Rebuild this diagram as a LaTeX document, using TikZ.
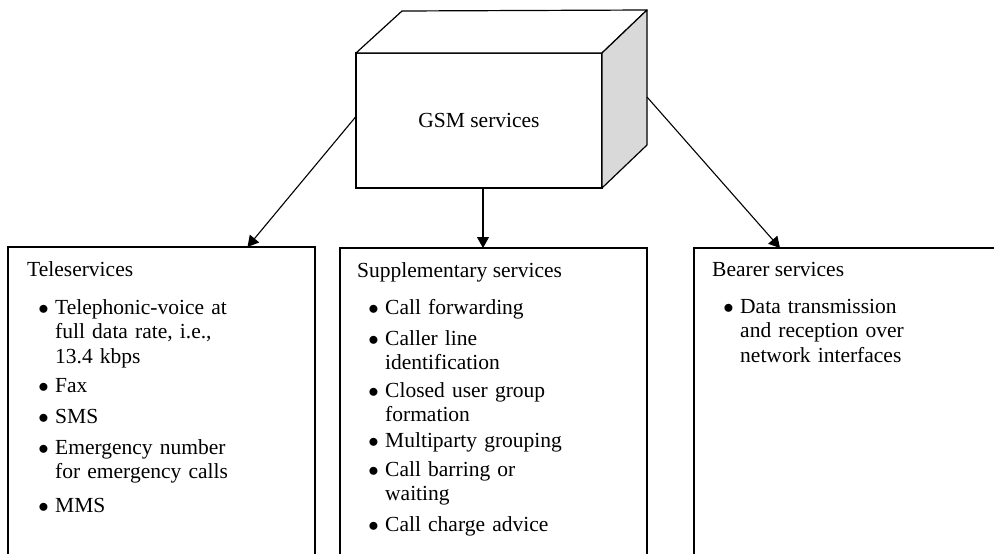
\documentclass[tikz,border=0pt]{standalone}
\usepackage{fontspec}
\setmainfont{Liberation Serif}
\usetikzlibrary{arrows.meta,calc}
\definecolor{sideface}{RGB}{217,217,217}
\begin{document}
\begin{tikzpicture}[x=1pt,y=-1pt,
  txt/.style={font=\fontsize{21.5}{24.5}\selectfont},
  edge/.style={draw=black,line width=1.2pt},
  cubeface/.style={edge,fill=white,minimum width=246pt,minimum height=135pt,inner sep=0pt,outer sep=0pt,txt},
  svcbox/.style={edge,anchor=north west,inner sep=0pt,outer sep=0pt,minimum height=330pt},
  head/.style={txt,anchor=base west,inner sep=0pt},
  item/.style={txt,anchor=base west,inner sep=0pt,text width=250pt,align=left},
  arr/.style={line width=1.1pt,-{Triangle[length=11pt,width=12pt]}}]
\useasboundingbox (0,0) rectangle (994,554);
\clip (0,0) rectangle (994,554);
\newcommand{\bul}{\llap{$\bullet$\hspace{6.5pt}}}

% the GSM services block
\node[cubeface] (gsm) at (479,120.5) {GSM services};
\draw[edge,fill=white,line join=round] (gsm.north west) -- ++(46,-42) -- ++(245,-1) -- (gsm.north east) -- cycle;
\draw[edge,fill=sideface,line join=round] (gsm.north east) -- ++(45,-43) -- ++(0,135) -- (gsm.south east) -- cycle;

% the three service boxes
\node[svcbox,minimum width=307pt] (tele) at (8,247) {};
\node[svcbox,minimum width=307pt] (supp) at (340,248) {};
\node[svcbox,minimum width=330pt] (bear) at (694,248) {};

% Teleservices
\node[head] (teleh) at (27,276) {Teleservices};
\node[item] (t1) at (55,314) {\bul Telephonic-voice at\\full data rate, i.e.,\\13.4 kbps};
\node[item] (t2) at (55,392) {\bul Fax};
\node[item] (t3) at (55,423) {\bul SMS};
\node[item] (t4) at (55,454) {\bul Emergency number\\for emergency calls};
\node[item] (t5) at (55,512) {\bul MMS};

% Supplementary services
\node[head] (supph) at (357,277) {Supplementary services};
\node[item] (s1) at (385,314) {\bul Call forwarding};
\node[item] (s2) at (385,345) {\bul Caller line\\identification};
\node[item] (s3) at (385,397) {\bul Closed user group\\formation};
\node[item] (s4) at (385,447) {\bul Multiparty grouping};
\node[item] (s5) at (385,476) {\bul Call barring or\\waiting};
\node[item] (s6) at (385,531) {\bul Call charge advice};

% Bearer services
\node[head] (bearh) at (712,276) {Bearer services};
\node[item] (b1) at (740,313) {\bul Data transmission\\and reception over\\network interfaces};

% connectors
\draw[arr] ($(gsm.north west)!0.47!(gsm.south west)$) -- ($(tele.north west)+(239.5,0)$);
\draw[arr] ([xshift=4pt]gsm.south) -- ([xshift=4pt]gsm.south |- supp.north);
\draw[arr] ($(gsm.east)+(45,-23.5)$) -- ($(bear.north west)+(86,0)$);
\end{tikzpicture}
\end{document}
